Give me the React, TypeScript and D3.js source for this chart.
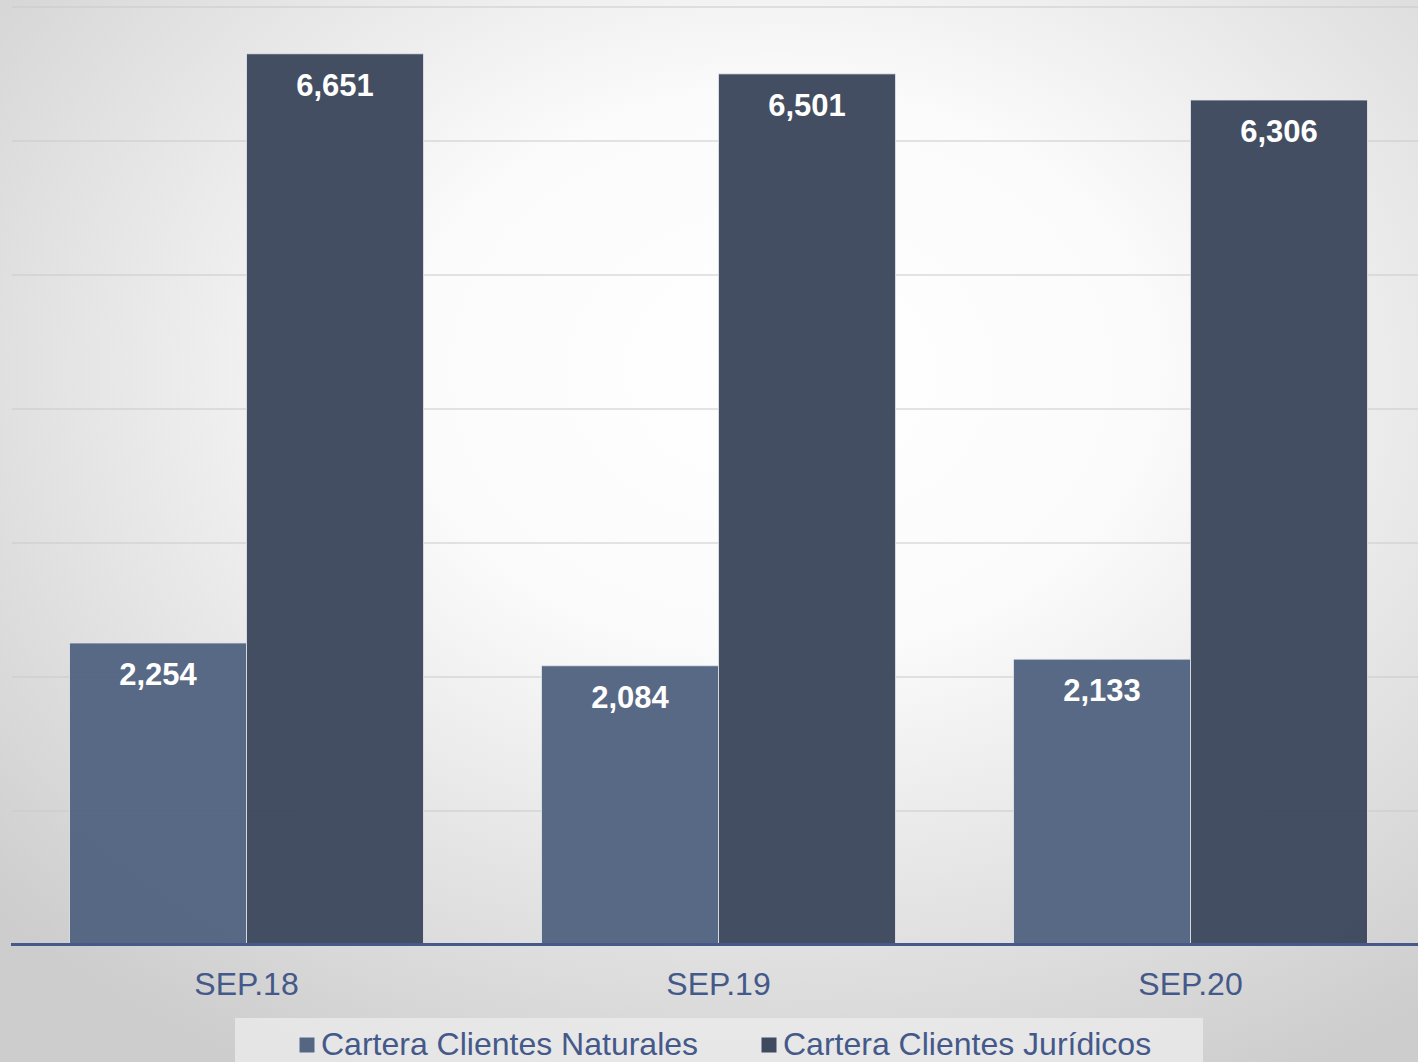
import React from "react";
import * as d3 from "d3";

const categories = ["SEP.18", "SEP.19", "SEP.20"];
const seriesNames = ["Cartera Clientes Naturales", "Cartera Clientes Jurídicos"];
const naturales = [2254, 2084, 2133];
const juridicos = [6651, 6501, 6306];
const gridTicks = [1000, 2000, 3000, 4000, 5000, 6000, 7000];
const seriesColors = ["#556683", "#3f4a5f"];

const W = 1418;
const H = 1062;

export default function App() {
  const x0 = d3.scaleBand<string>().domain(categories).range([10.5, 1426.5]).paddingInner(0.25).paddingOuter(0.125);
  const x1 = d3.scaleBand<string>().domain(seriesNames).range([0, x0.bandwidth()]);
  const y = d3.scaleLinear().domain([0, 7000]).range([945, 7]);
  const fmt = d3.format(",");
  const seriesVals = [naturales, juridicos];

  return (
    <svg width={W} height={H} style={{ position: "absolute", left: 0, top: 0, display: "block" }}
      fontFamily="'Liberation Sans', Arial, sans-serif">
      <defs>
        <radialGradient id="bg" cx="0.55" cy="0.35" r="0.75">
          <stop offset="0" stopColor="#ffffff" />
          <stop offset="0.35" stopColor="#fbfbfb" />
          <stop offset="1" stopColor="#cdcdcd" />
        </radialGradient>
      </defs>
      <rect x={0} y={0} width={W} height={H} fill="url(#bg)" />
      {gridTicks.map((t) => (
        <line key={t} x1={12} x2={W} y1={y(t)} y2={y(t)} stroke="#c9c9c9" strokeWidth={1.2} />
      ))}
      {categories.map((c, i) => (
        <g key={c} transform={`translate(${x0(c)},0)`}>
          {seriesNames.map((s, j) => {
            const v = seriesVals[j][i];
            const bx = x1(s)!;
            const bw = x1.bandwidth();
            return (
              <g key={s}>
                <rect x={bx} y={y(v)} width={bw} height={y(0) - y(v)} fill={seriesColors[j]}
                  fillOpacity={0.98} stroke="#e6e8ee" strokeOpacity={0.8} strokeWidth={1} />
                <text x={bx + bw / 2} y={y(v) + 42} textAnchor="middle" fill="#ffffff"
                  fontWeight="bold" fontSize={31}>{fmt(v)}</text>
              </g>
            );
          })}
        </g>
      ))}
      <line x1={11} x2={W} y1={944.5} y2={944.5} stroke="#46598a" strokeWidth={3.2} />
      {categories.map((c) => (
        <text key={c} x={x0(c)! + x0.bandwidth() / 2} y={995} textAnchor="middle" fill="#44598a" fontSize={32}>{c}</text>
      ))}
      <rect x={235} y={1018} width={968} height={50} fill="#ececec" fillOpacity={0.75} />
      {seriesNames.map((s, j) => {
        const lx = [299, 761][j];
        return (
          <g key={s}>
            <rect x={lx} y={1037} width={16} height={16} fill={seriesColors[j]} stroke="#e6e8ee" strokeWidth={1} />
            <text x={lx + 22} y={1055} fill="#44598a" fontSize={32}>{s}</text>
          </g>
        );
      })}
    </svg>
  );
}
